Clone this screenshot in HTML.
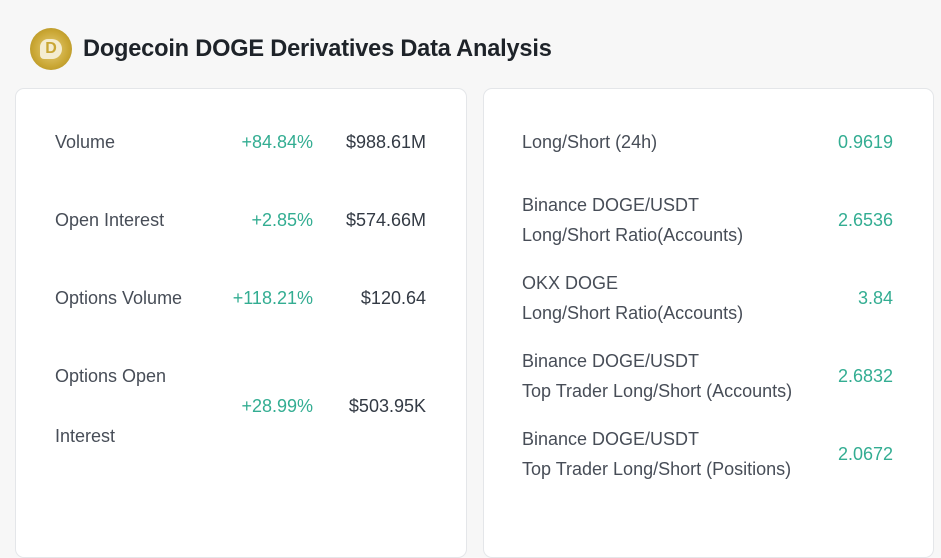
<!DOCTYPE html>
<html><head><meta charset="utf-8"><style>
body{margin:0;width:941px;height:533px;overflow:hidden;background:#f7f7f7;font-family:"Liberation Sans",sans-serif;position:relative;color:#474d57}
.card{position:absolute;top:88px;height:470px;background:#fff;border:1px solid #e4e6e9;border-radius:9px;box-sizing:border-box}
.t{position:absolute;font-size:18px;line-height:20px;white-space:nowrap;transform:translateY(-50%)}
.r{text-align:right;transform:translate(-100%,-50%)}
.g{color:#33ad92}
.d{color:#333a44}
</style></head><body>
<div style="position:absolute;left:30px;top:28px;width:42px;height:42px;border-radius:50%;background:radial-gradient(circle at 50% 50%,#e8cf7a 0,#c9a633 60%,#a8891f 100%)">
<div style="position:absolute;left:10px;top:11px;width:22px;height:20px;background:#f4ecd0;border-radius:8px 10px 10px 4px;font:bold 16px 'Liberation Sans',sans-serif;color:#c9a633;text-align:center;line-height:20px">D</div></div>
<div style="position:absolute;left:83px;top:36px;font-size:23.6px;font-weight:bold;color:#1e2329;line-height:26px;letter-spacing:-0.2px">Dogecoin DOGE Derivatives Data Analysis</div>

<div class="card" style="left:15px;width:452px"></div>
<div class="card" style="left:483px;width:451px"></div>

<div class="t" style="left:55px;top:142px">Volume</div>
<div class="t r g" style="left:313px;top:142px">+84.84%</div>
<div class="t r d" style="left:426px;top:142px">$988.61M</div>

<div class="t" style="left:55px;top:220px">Open Interest</div>
<div class="t r g" style="left:313px;top:220px">+2.85%</div>
<div class="t r d" style="left:426px;top:220px">$574.66M</div>

<div class="t" style="left:55px;top:298px">Options Volume</div>
<div class="t r g" style="left:313px;top:298px">+118.21%</div>
<div class="t r d" style="left:426px;top:298px">$120.64</div>

<div class="t" style="left:55px;top:376px">Options Open</div>
<div class="t" style="left:55px;top:436px">Interest</div>
<div class="t r g" style="left:313px;top:406px">+28.99%</div>
<div class="t r d" style="left:426px;top:406px">$503.95K</div>

<div class="t" style="left:522px;top:142px">Long/Short (24h)</div>
<div class="t r g" style="left:893px;top:142px">0.9619</div>

<div class="t" style="left:522px;top:205px">Binance DOGE/USDT</div>
<div class="t" style="left:522px;top:235px">Long/Short Ratio(Accounts)</div>
<div class="t r g" style="left:893px;top:220px">2.6536</div>

<div class="t" style="left:522px;top:283px">OKX DOGE</div>
<div class="t" style="left:522px;top:313px">Long/Short Ratio(Accounts)</div>
<div class="t r g" style="left:893px;top:298px">3.84</div>

<div class="t" style="left:522px;top:361px">Binance DOGE/USDT</div>
<div class="t" style="left:522px;top:391px">Top Trader Long/Short (Accounts)</div>
<div class="t r g" style="left:893px;top:376px">2.6832</div>

<div class="t" style="left:522px;top:439px">Binance DOGE/USDT</div>
<div class="t" style="left:522px;top:469px">Top Trader Long/Short (Positions)</div>
<div class="t r g" style="left:893px;top:454px">2.0672</div>
</body></html>
